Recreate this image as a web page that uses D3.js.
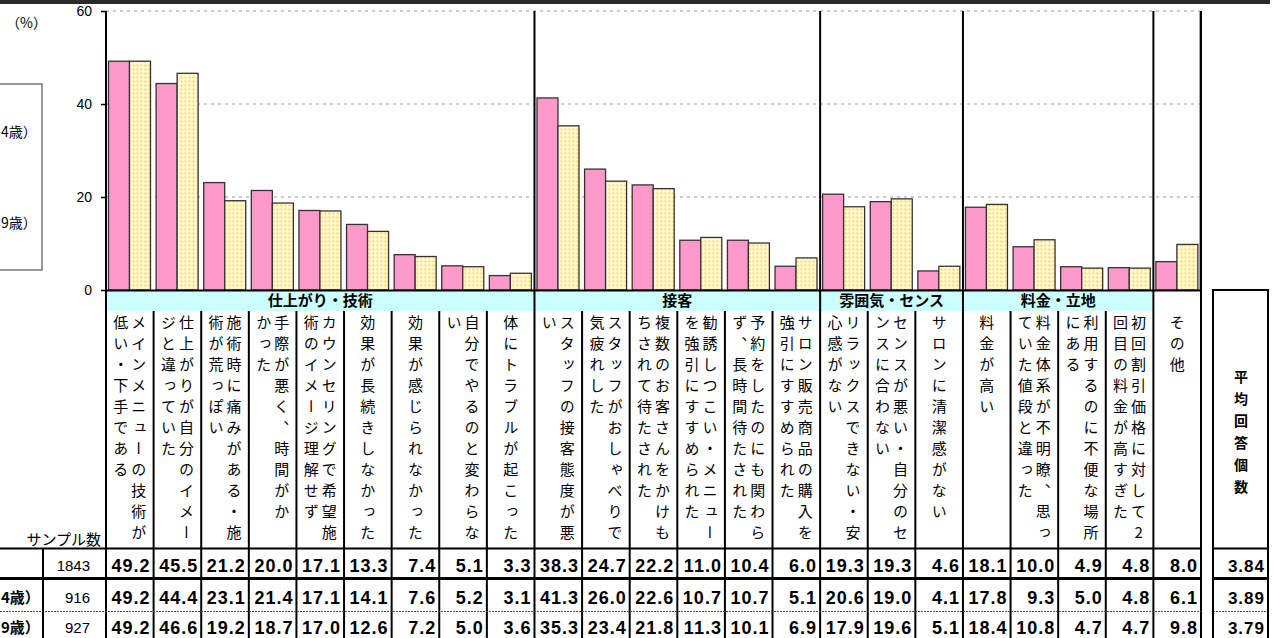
<!DOCTYPE html>
<html>
<head>
<meta charset="utf-8">
<script src="https://cdn.jsdelivr.net/npm/d3@7"></script>
<style>
  body { margin: 0; background: #fff; }
  svg { display: block; }
</style>
</head>
<body>
<div id="chart"></div>
<script>
// groups of reasons
const groupNames = ["仕上がり・技術", "接客", "雰囲気・センス", "料金・立地", ""];
const groupSizes = [9, 6, 3, 4, 1];

// each reason, already broken into vertical columns (first = rightmost)
const labelCols = [
  ["メインメニューの技術が", "低い・下手である"],
  ["仕上がりが自分のイメー", "ジと違っていた"],
  ["施術時に痛みがある・施", "術が荒っぽい"],
  ["手際が悪く、時間がか", "かった"],
  ["カウンセリングで希望施", "術のイメージ理解せず"],
  ["効果が長続きしなかった"],
  ["効果が感じられなかった"],
  ["自分でやるのと変わらな", "い"],
  ["体にトラブルが起こった"],
  ["スタッフの接客態度が悪", "い"],
  ["スタッフがおしゃべりで", "気疲れした"],
  ["複数のお客さんをかけも", "ちされて待たされた"],
  ["勧誘しつこい・メニュー", "を強引にすすめられた"],
  ["予約をしたのにも関わら", "ず、長時間待たされた"],
  ["サロン販売商品の購入を", "強引にすすめられた"],
  ["リラックスできない・安", "心感がない"],
  ["センスが悪い・自分のセ", "ンスに合わない"],
  ["サロンに清潔感がない"],
  ["料金が高い"],
  ["料金体系が不明瞭、思っ", "ていた値段と違った"],
  ["利用するのに不便な場所", "にある"],
  ["初回割引価格に対して2", "回目の料金が高すぎた"],
  ["その他"]
];

const totalVals = [49.2, 45.5, 21.2, 20.0, 17.1, 13.3, 7.4, 5.1, 3.3, 38.3, 24.7, 22.2, 11.0, 10.4, 6.0, 19.3, 19.3, 4.6, 18.1, 10.0, 4.9, 4.8, 8.0];
const youngVals = [49.2, 44.4, 23.1, 21.4, 17.1, 14.1, 7.6, 5.2, 3.1, 41.3, 26.0, 22.6, 10.7, 10.7, 5.1, 20.6, 19.0, 4.1, 17.8, 9.3, 5.0, 4.8, 6.1];
const olderVals = [49.2, 46.6, 19.2, 18.7, 17.0, 12.6, 7.2, 5.0, 3.6, 35.3, 23.4, 21.8, 11.3, 10.1, 6.9, 17.9, 19.6, 5.1, 18.4, 10.8, 4.7, 4.7, 9.8];

// only the right end of the age labels is inside the picture
const rowLabels = ["", "4歳）", "9歳）"];
const legendLabels = ["4歳）", "9歳）"];
const sampleN = [1843, 916, 927];
const avgAnswers = ["3.84", "3.89", "3.79"];
const yTicks = [0, 20, 40, 60];

const width = 1273, height = 638;
const jp = "'Noto Sans CJK JP', 'Noto Sans', sans-serif";
const num = "'Liberation Sans', Arial, sans-serif";

const svg = d3.select("#chart").append("svg")
  .attr("width", width).attr("height", height);

const defs = svg.append("defs");
const pat = defs.append("pattern")
  .attr("id", "dots").attr("patternUnits", "userSpaceOnUse")
  .attr("width", 4).attr("height", 4);
pat.append("rect").attr("width", 4).attr("height", 4).attr("fill", "#fffbe6");
pat.append("rect").attr("x", 0.5).attr("y", 0.5).attr("width", 2).attr("height", 2).attr("fill", "#ffd84a");

// top dark strip
svg.append("rect").attr("x", 0).attr("y", 0).attr("width", 1270).attr("height", 4).attr("fill", "#2a2a2a");

const x = d3.scaleBand().domain(d3.range(labelCols.length)).range([106, 1201]);
const xs = d3.scaleBand().domain([0, 1]).range([2.5, 44.5]);
const y = d3.scaleLinear().domain([0, 60]).range([290, 11]);

const bw = x.bandwidth();
let starts = [], acc = 0;
groupSizes.forEach(n => { starts.push(acc); acc += n; });

// gridlines
svg.append("g").selectAll("line").data([20, 40, 60]).join("line")
  .attr("x1", 106).attr("x2", 1200)
  .attr("y1", d => y(d)).attr("y2", d => y(d))
  .attr("stroke", "#bdbdbd").attr("stroke-width", 1.5).attr("stroke-dasharray", "3,4");
svg.append("line").attr("x1", 1200).attr("x2", 1200).attr("y1", 11).attr("y2", 290)
  .attr("stroke", "#888").attr("stroke-width", 1.5);

// bars
const series = [youngVals, olderVals];
const barG = svg.append("g");
series.forEach((vals, s) => {
  barG.selectAll("rect.s" + s).data(vals).join("rect")
    .attr("class", "s" + s)
    .attr("x", (d, i) => x(i) + xs(s))
    .attr("width", xs.bandwidth())
    .attr("y", d => y(d))
    .attr("height", d => y(0) - y(d))
    .attr("fill", s === 0 ? "#ff99cc" : "url(#dots)")
    .attr("stroke", "#333").attr("stroke-width", 1.3);
});

// y axis
const yAxis = svg.append("g").attr("transform", "translate(106,0)")
  .call(d3.axisLeft(y).tickValues(yTicks).tickSize(5).tickPadding(9));
yAxis.select(".domain").remove();
yAxis.selectAll("text").attr("font-family", num).attr("font-size", 14).attr("fill", "#000");
yAxis.selectAll("line").attr("stroke", "#000").attr("stroke-width", 1.5);

svg.append("text").attr("x", 6).attr("y", 28).attr("font-family", jp).attr("font-size", 14)
  .text("（%）");

// legend box (mostly cut off on the left)
svg.append("rect").attr("x", -20).attr("y", 84).attr("width", 62).attr("height", 186)
  .attr("fill", "none").attr("stroke", "#333").attr("stroke-width", 1);
svg.append("g").selectAll("text").data(legendLabels).join("text")
  .attr("x", 1).attr("y", (d, i) => [137, 228][i])
  .attr("font-family", jp).attr("font-size", 14)
  .text(d => d);

// category band
svg.append("rect").attr("x", 106).attr("y", 290).attr("width", x(22) - 106).attr("height", 21)
  .attr("fill", "#ccffff");
svg.append("g").selectAll("text").data(groupNames.slice(0, 4)).join("text")
  .attr("x", (d, i) => x(starts[i]) + groupSizes[i] * bw / 2)
  .attr("y", 306)
  .attr("text-anchor", "middle").attr("font-family", jp).attr("font-weight", 700).attr("font-size", 15)
  .text(d => d);

// axis line
svg.append("line").attr("x1", 106).attr("x2", 1201).attr("y1", 290.5).attr("y2", 290.5)
  .attr("stroke", "#000").attr("stroke-width", 2);

// vertical labels
const colData = [];
labelCols.forEach((cols, i) => {
  const cx = x(i) + bw / 2;
  const k = cols.length;
  cols.forEach((s, j) => colData.push({ s, x: cx + (k - 1) * 9 - j * 18 }));
});
svg.append("g").selectAll("text").data(colData).join("text")
  .attr("x", d => d.x).attr("y", 315)
  .style("writing-mode", "vertical-rl")
  .style("text-orientation", "upright")
  .attr("letter-spacing", 6)
  .attr("font-family", jp).attr("font-size", 15)
  .text(d => d.s);

// vertical separators
const bounds = d3.range(labelCols.length + 1).map(i => i < labelCols.length ? x(i) : 1201);
const groupBounds = starts.map(s => x(s)).concat([1201]);
svg.append("g").selectAll("line").data(bounds).join("line")
  .attr("x1", d => d).attr("x2", d => d)
  .attr("y1", d => groupBounds.some(g => Math.abs(g - d) < 0.5) ? 11 : 311)
  .attr("y2", 640)
  .attr("stroke", "#000")
  .attr("stroke-width", 2);

// table
svg.append("text").attr("x", 101).attr("y", 545).attr("text-anchor", "end")
  .attr("font-family", jp).attr("font-size", 15).text("サンプル数");

const rowY = [565, 597, 627];
const rowsVals = [totalVals, youngVals, olderVals];
const tbl = svg.append("g");
[[0, 1201], [1213, 1268]].forEach(([a, b]) => {
  tbl.append("line").attr("x1", a).attr("x2", b).attr("y1", 548.5).attr("y2", 548.5)
    .attr("stroke", "#000").attr("stroke-width", 2);
  tbl.append("line").attr("x1", a).attr("x2", b).attr("y1", 578.5).attr("y2", 578.5)
    .attr("stroke", "#000").attr("stroke-width", 3);
  tbl.append("line").attr("x1", a).attr("x2", b).attr("y1", 611.5).attr("y2", 611.5)
    .attr("stroke", "#444").attr("stroke-width", 1).attr("stroke-dasharray", "2,1");
});
tbl.append("line").attr("x1", 43).attr("x2", 43).attr("y1", 548).attr("y2", 640)
  .attr("stroke", "#000").attr("stroke-width", 2);
tbl.append("rect").attr("x", 1213).attr("y", 290).attr("width", 55).attr("height", 360)
  .attr("fill", "none").attr("stroke", "#000").attr("stroke-width", 2);
tbl.append("text").attr("x", 1241).attr("y", 370)
  .style("writing-mode", "vertical-rl").style("text-orientation", "upright")
  .attr("letter-spacing", 8).attr("font-family", jp).attr("font-weight", 700).attr("font-size", 14)
  .text("平均回答個数");

rowsVals.forEach((vals, r) => {
  tbl.append("g").selectAll("text").data(vals).join("text")
    .attr("x", (d, i) => x(i) + bw - 3)
    .attr("y", rowY[r] + 6.5)
    .attr("text-anchor", "end").attr("font-family", num).attr("font-weight", 700)
    .attr("font-size", 18).attr("letter-spacing", 1)
    .text(d => d.toFixed(1));
  tbl.append("text").attr("x", 90).attr("y", rowY[r] + 5.5).attr("text-anchor", "end")
    .attr("font-family", num).attr("font-size", 15).text(sampleN[r]);
  tbl.append("text").attr("x", 1).attr("y", rowY[r] + 6)
    .attr("font-family", jp).attr("font-weight", 700).attr("font-size", 15).text(rowLabels[r]);
  tbl.append("text").attr("x", 1265).attr("y", rowY[r] + 6.5).attr("text-anchor", "end")
    .attr("font-family", num).attr("font-weight", 700).attr("font-size", 17).attr("letter-spacing", 1)
    .text(avgAnswers[r]);
});
</script>
</body>
</html>
